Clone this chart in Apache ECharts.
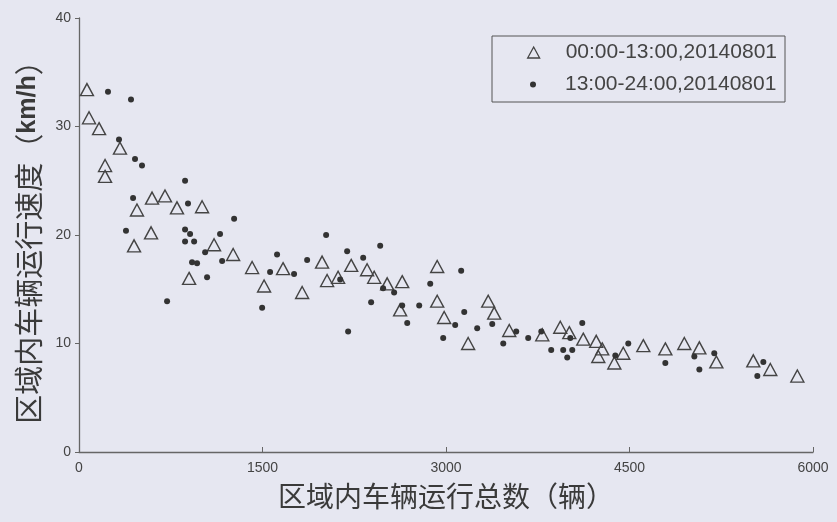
<!DOCTYPE html>
<html>
<head>
<meta charset="utf-8">
<script src="https://cdn.jsdelivr.net/npm/echarts@6/dist/echarts.min.js"></script>
<style>
html,body{margin:0;padding:0;background:#e6e7f1;}
#c{width:837px;height:522px;}
</style>
</head>
<body>
<div id="c"></div>
<script>
// Series 1: 00:00-13:00 (hollow triangles) [vehicles, speed]
const morningX = [65,82,164,335,213,213,597,703,474,801,1006,589,450,1104,1260,1415,900,1668,1513,1824,1987,2028,2118,2225,2355,2413,2519,2642,2625,2928,2928,2985,3181,3345,3394,3517,3787,3934,4008,4122,4228,4277,4245,4376,4449,4613,4793,4948,5071,5210,5512,5651,5872];
const morningY = [33.4,30.8,29.8,28.0,26.4,25.4,23.4,23.6,22.3,22.5,22.6,20.2,19.0,19.1,18.2,17.0,16.0,16.9,15.3,14.7,17.5,15.8,16.1,17.2,16.8,16.1,15.5,15.7,13.1,17.1,13.9,12.4,10.0,13.9,12.8,11.2,10.8,11.5,11.0,10.4,10.2,9.5,8.8,8.2,9.1,9.8,9.5,10.0,9.6,8.3,8.4,7.6,7.0];
// Series 2: 13:00-24:00 (filled dots)
const eveningX = [237,425,327,458,515,867,442,891,1268,384,867,908,867,941,1153,1031,924,965,1170,1047,720,2020,1619,2192,2462,1562,1758,1865,2323,2135,2486,2576,2871,1497,2388,2642,2781,2683,2200,3124,3149,3075,2977,3378,3255,3468,3574,3672,3779,4114,4016,3860,3958,4032,3991,4384,4490,4793,5030,5071,5193,5594,5545];
const eveningY = [33.2,32.5,28.8,27.0,26.4,25.0,23.4,22.9,21.5,20.4,20.5,20.1,19.4,19.4,20.1,18.4,17.5,17.4,17.6,16.1,13.9,20.0,18.2,18.5,19.0,16.6,16.4,17.7,17.9,15.9,15.1,14.7,15.5,13.3,13.8,13.5,13.5,11.9,11.1,16.7,12.9,11.7,10.5,11.8,11.4,10.0,11.1,10.5,11.1,11.9,10.5,9.4,9.4,9.4,8.7,8.9,10.0,8.2,8.8,7.6,9.1,8.3,7.0];
const seriesNames = ['00:00-13:00,20140801','13:00-24:00,20140801'];
const xTicks = {min:0, max:6000, interval:1500};
const yTicks = {min:0, max:40, interval:10};
const xTitle = '区域内车辆运行总数（辆）';
const yTitle = '区域内车辆运行速度（{b|km/h}）';

const zip = (a,b) => a.map((v,i)=>[v,b[i]]);
const numFont = '"Liberation Sans", Arial, sans-serif';
const cjkFont = '"Noto Sans CJK SC", sans-serif';
const axisCol = '#666';

const chart = echarts.init(document.getElementById('c'), null, {renderer:'canvas'});
chart.setOption({
  backgroundColor:'#e6e7f1',
  animation:false,
  grid:{left:79, right:24, top:18, bottom:70},
  legend:[{
    data:[{name:seriesNames[0], icon:'triangle',
      itemStyle:{color:'rgba(0,0,0,0)', borderColor:'#444', borderWidth:1.3}}],
    orient:'vertical', left:492, top:36,
    padding:[6,8,39,35],
    itemWidth:12, itemHeight:11,
    borderColor:'#555', borderWidth:1,
    selectedMode:false,
    textStyle:{fontSize:21, color:'#444', fontFamily:numFont, padding:[0,0,0,21]}
  },{
    data:[{name:seriesNames[1], icon:'circle'}],
    orient:'vertical', left:530, top:74,
    padding:0,
    itemWidth:6, itemHeight:6,
    selectedMode:false,
    textStyle:{fontSize:21, color:'#444', fontFamily:numFont, padding:[0,0,0,24]}
  }],
  xAxis:{
    type:'value', min:xTicks.min, max:xTicks.max, interval:xTicks.interval,
    name:xTitle, nameLocation:'middle', nameGap:30,
    nameTextStyle:{fontSize:28, color:'#3a3a3a', fontFamily:cjkFont},
    axisLine:{show:true, lineStyle:{color:axisCol, width:1.3}},
    axisTick:{show:true, inside:true, length:5, lineStyle:{color:axisCol}},
    axisLabel:{fontSize:14, color:'#444', margin:9, fontFamily:numFont, formatter:v=>String(v)},
    splitLine:{show:false}
  },
  yAxis:{
    type:'value', min:yTicks.min, max:yTicks.max, interval:yTicks.interval,
    name:yTitle, nameLocation:'middle', nameGap:36,
    nameTextStyle:{fontSize:29, color:'#3a3a3a', fontFamily:cjkFont,
      rich:{b:{fontSize:25, fontWeight:'bold', color:'#3a3a3a', fontFamily:numFont}}},
    axisLine:{show:true, lineStyle:{color:axisCol, width:1.3}},
    axisTick:{show:true, inside:false, length:4, lineStyle:{color:axisCol}},
    axisLabel:{fontSize:14, color:'#444', margin:8, fontFamily:numFont, formatter:v=>String(v)},
    splitLine:{show:false}
  },
  series:[{
    name:seriesNames[0], type:'scatter', symbol:'triangle', symbolSize:[13,12],
    data:zip(morningX, morningY),
    itemStyle:{color:'rgba(0,0,0,0)', borderColor:'#444', borderWidth:1.4, opacity:1}
  },{
    name:seriesNames[1], type:'scatter', symbol:'circle', symbolSize:6,
    data:zip(eveningX, eveningY),
    itemStyle:{color:'#333', opacity:1}
  }]
});
</script>
</body>
</html>
